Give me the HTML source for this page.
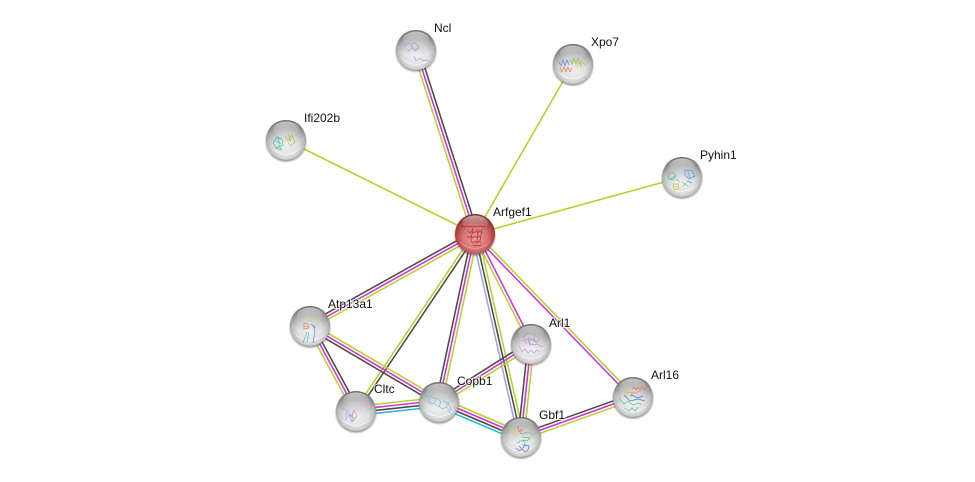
<!DOCTYPE html>
<html><head><meta charset="utf-8"><style>
html,body{margin:0;padding:0;background:#fff}
svg{display:block}
text{font-family:"Liberation Sans",sans-serif;font-size:12px;fill:#111;paint-order:stroke;stroke:#fff;stroke-opacity:.75;stroke-width:2px}
.m{stroke:#d92fd9}.d{stroke:#4a4a4a}.b{stroke:#9aa4ee}.c{stroke:#2cb8d8}.y{stroke:#b5d22a}
line{stroke-width:1.55}
path{fill:none;stroke-width:.7;stroke-linejoin:round;stroke-opacity:.85}
</style></head><body>
<svg width="975" height="482" viewBox="0 0 975 482" xmlns="http://www.w3.org/2000/svg">
<defs>
<radialGradient id="g" cx=".5" cy=".6" r=".58">
<stop offset="0" stop-color="#f2f2f2"/><stop offset=".5" stop-color="#e2e2e2"/><stop offset=".78" stop-color="#bcbcbc"/><stop offset=".95" stop-color="#8c8c8c"/><stop offset="1" stop-color="#767676"/>
</radialGradient>
<radialGradient id="r" cx=".5" cy=".6" r=".58">
<stop offset="0" stop-color="#e6a0a0"/><stop offset=".5" stop-color="#d87878"/><stop offset=".78" stop-color="#bc4444"/><stop offset=".95" stop-color="#962424"/><stop offset="1" stop-color="#7c1818"/>
</radialGradient>
<linearGradient id="k" x1="0" y1="0" x2="0" y2="1">
<stop offset="0" stop-color="#6a6a6a" stop-opacity=".5"/><stop offset="1" stop-color="#8a8a8a" stop-opacity="0"/>
</linearGradient>
<linearGradient id="t" x1="0" y1="0" x2="0" y2="1">
<stop offset="0" stop-color="#fff" stop-opacity=".55"/><stop offset=".5" stop-color="#fff" stop-opacity=".15"/><stop offset="1" stop-color="#fff" stop-opacity="0"/>
</linearGradient>
<radialGradient id="s"><stop offset=".82" stop-color="#444" stop-opacity=".8"/><stop offset="1" stop-color="#555" stop-opacity="0"/></radialGradient>
<g id="shade">
<ellipse cx="0" cy="-7" rx="18" ry="13" fill="url(#k)"/>
<ellipse cx="0" cy="-11" rx="13" ry="7.5" fill="url(#t)"/>
<path d="M-16 6A17 13 0 0 0 16 6A20 20 0 0 1-16 6Z" style="fill:#fff;fill-opacity:.9;stroke:none;stroke-opacity:1"/>
</g>
</defs>

<line class="y" x1="413.1" y1="50.9" x2="472.1" y2="234.9"/><line class="m" x1="416" y1="50" x2="475" y2="234"/><line class="d" x1="418.9" y1="49.1" x2="477.9" y2="233.1"/>
<line class="y" x1="573" y1="64" x2="475" y2="234"/>
<line class="y" x1="286" y1="140" x2="475" y2="234"/>
<line class="y" x1="682" y1="177" x2="475" y2="234"/>
<line class="d" x1="308.5" y1="323.4" x2="473.5" y2="231.4"/><line class="m" x1="310" y1="326" x2="475" y2="234"/><line class="y" x1="311.5" y1="328.6" x2="476.5" y2="236.6"/>
<line class="y" x1="473.75" y1="233.16" x2="354.75" y2="410.16"/><line class="d" x1="476.25" y1="234.84" x2="357.25" y2="411.84"/>
<line class="d" x1="472.07" y1="233.37" x2="436.07" y2="401.37"/><line class="m" x1="475" y1="234" x2="439" y2="402"/><line class="y" x1="477.93" y1="234.63" x2="441.93" y2="402.63"/>
<line class="b" x1="472.07" y1="234.66" x2="518.07" y2="437.66"/><line class="d" x1="475" y1="234" x2="521" y2="437"/><line class="y" x1="477.93" y1="233.34" x2="523.93" y2="436.34"/>
<line class="y" x1="473.66" y1="234.68" x2="529.66" y2="344.68"/><line class="m" x1="476.34" y1="233.32" x2="532.34" y2="343.32"/>
<line class="y" x1="476.08" y1="232.96" x2="634.08" y2="395.96"/><line class="m" x1="473.92" y1="235.04" x2="631.92" y2="398.04"/>
<line class="d" x1="528.02" y1="343.68" x2="518.02" y2="436.68"/><line class="m" x1="531" y1="344" x2="521" y2="437"/><line class="y" x1="533.98" y1="344.32" x2="523.98" y2="437.32"/>
<line class="d" x1="529.4" y1="341.46" x2="437.4" y2="399.46"/><line class="m" x1="531" y1="344" x2="439" y2="402"/><line class="y" x1="532.6" y1="346.54" x2="440.6" y2="404.54"/>
<line class="y" x1="307.36" y1="327.43" x2="353.36" y2="412.43"/><line class="m" x1="310" y1="326" x2="356" y2="411"/><line class="d" x1="312.64" y1="324.57" x2="358.64" y2="409.57"/>
<line class="y" x1="311.52" y1="323.41" x2="440.52" y2="399.41"/><line class="m" x1="310" y1="326" x2="439" y2="402"/><line class="d" x1="308.48" y1="328.59" x2="437.48" y2="404.59"/>
<line class="y" x1="355.51" y1="406.53" x2="438.51" y2="397.53"/><line class="m" x1="355.84" y1="409.51" x2="438.84" y2="400.51"/><line class="d" x1="356.16" y1="412.49" x2="439.16" y2="403.49"/><line class="c" x1="356.49" y1="415.47" x2="439.49" y2="406.47"/>
<line class="y" x1="440.77" y1="397.86" x2="522.77" y2="432.86"/><line class="m" x1="439.59" y1="400.62" x2="521.59" y2="435.62"/><line class="d" x1="438.41" y1="403.38" x2="520.41" y2="438.38"/><line class="c" x1="437.23" y1="406.14" x2="519.23" y2="441.14"/>
<line class="d" x1="519.99" y1="434.17" x2="631.99" y2="394.17"/><line class="m" x1="521" y1="437" x2="633" y2="397"/><line class="y" x1="522.01" y1="439.83" x2="634.01" y2="399.83"/>

<g transform="translate(416,50)"><circle cy="1.5" r="21.5" fill="url(#s)"/><circle r="20" fill="url(#g)"/><use href="#shade"/><path d="M-12-3l5-4 3 2 2-3 3 3 2 2-3 3-4-2-3 3-3-2M-5-5l4 6 4-3M-2 6l2 5 4-3 3 3 4-1 3 2" stroke="#b98ad8"/></g>
<g transform="translate(573,64)"><circle cy="1.5" r="21.5" fill="url(#s)"/><circle r="20" fill="url(#g)"/><use href="#shade"/><path d="M-14-2l2 4 2-6 2 6 2-6 2 5" stroke="#4a7fd8"/><path d="M-13 3l2 5 2-5 2 5 2-5 2 5 2-4" stroke="#e0603a"/><path d="M-3-4l2 4 2-6 2 6 2-6 2 6 2-4" stroke="#7fc040"/><path d="M4 3l2-5 2 4 2-4 2 3" stroke="#e0b030"/></g>
<g transform="translate(286,140)"><circle cy="1.5" r="21.5" fill="url(#s)"/><circle r="20" fill="url(#g)"/><use href="#shade"/><path d="M-13 3l4-6 5 2 1 6-6 3ZM-10 1l5 3M-8-2l2 7" stroke="#2cb0b8"/><path d="M-1-3l3 4 4-6 3 7-4 4-3-3M2-6l3 8" stroke="#c0b030"/><path d="M-11 8l6 2M-8 5l4 5" stroke="#60c060"/></g>
<g transform="translate(682,177)"><circle cy="1.5" r="21.5" fill="url(#s)"/><circle r="20" fill="url(#g)"/><use href="#shade"/><path d="M-14-2l4-3 4 3-3 5-4-1ZM-12 2l6-3M-6 2l4 3" stroke="#30b890"/><path d="M3-7l7 1 3 5-6 3-4-4ZM6-5l2 6M5 4l5 2" stroke="#4a88d8"/><path d="M-9 7l5 0 1 5-5 1ZM-7 9l3 2" stroke="#c0c030"/><path d="M0 5l6 4M1 9l3-3" stroke="#50c060"/></g>
<g transform="translate(310,326)"><circle cy="1.5" r="21.5" fill="url(#s)"/><circle r="20" fill="url(#g)"/><use href="#shade"/><path d="M-2-9l3 4 2-5 3 5 3-3-2 6-4 3" stroke="#b8d870"/><path d="M-6-3l4 1 1 4-5 1ZM-5 0l3 1" stroke="#e07850" stroke-width="1.2"/><path d="M-3 6l-4 11M-1 6l-2 10" stroke="#40b8a0"/><path d="M3 0l2 5-2 12M1-2l5 4" stroke="#5070d0"/></g>
<g transform="translate(356,411)"><circle cy="1.5" r="21.5" fill="url(#s)"/><circle r="20" fill="url(#g)"/><use href="#shade"/><path d="M-13-3l5 3 3 6 3-7 3 6-5 6-3-7-4 5M-9 1l-2 5M-3 1l-1 9M-6 3l5 5" stroke="#b98ad8"/><path d="M3-7l5 2 4-3 2 4-4 2-3-2M3-2l4 3" stroke="#d8c0e4"/></g>
<g transform="translate(439,402)"><circle cy="1.5" r="21.5" fill="url(#s)"/><circle r="20" fill="url(#g)"/><use href="#shade"/><path d="M-13-5l4-2 4 3 4 1 3 3-2 4 3 3 5-2 3 6M-8-6l-3 6 5 2 3-4M-4 2l4 3M4-1l5 2 3 6-2 4M7 4l3-4" stroke="#70bcd4"/></g>
<g transform="translate(531,344)"><circle cy="1.5" r="21.5" fill="url(#s)"/><circle r="20" fill="url(#g)"/><use href="#shade"/><path d="M-9-6l5-5 6 1 7 4-3 4-5-3-4 3 4 3 5-1 6 3M-12 2l3 6 3-3 3 4 3-3 3 3 3-3 3 2M-7-9l2 9M-3-6l2 8M3-8l1 6M-9-3l8-3 7 5" stroke="#b98ad8"/></g>
<g transform="translate(633,397)"><circle cy="1.5" r="21.5" fill="url(#s)"/><circle r="20" fill="url(#g)"/><use href="#shade"/><path d="M-13-8l5 3 5-3M-12-4l6 1" stroke="#e0cc50" stroke-width="1.1"/><path d="M-1-8l2-2 2 3 2-3 2 3 2-3 2 3 2-2" stroke="#e06050" stroke-width="1.1"/><path d="M-9-2l6 6 8-2 7 2M-2-2l7 3 5-2" stroke="#3070c8"/><path d="M-14 1l5 6 4-3 5 4 6-2 3 2M-9 11l5 3 3-3 3 3 3-4" stroke="#30c080" stroke-width="1.1"/><path d="M-7-5l9 1 6-2M-3-1l3-4" stroke="#e0a030"/></g>
<g transform="translate(521,437)"><circle cy="1.5" r="21.5" fill="url(#s)"/><circle r="20" fill="url(#g)"/><use href="#shade"/><path d="M-11-9l4 5 4-3M-8-3l5 2" stroke="#d0d060"/><path d="M-3-11l1 6 3-3-2 5" stroke="#e07040"/><path d="M0-3l7-2 5 3M1 0l8 1-3 3-5-1" stroke="#40c070"/><path d="M-2 4l5 0 1 4-3 0M-4 6l3-1" stroke="#40b8c8"/><path d="M-5 11l3 3 3-2 3 3 3-2 1-4-4-1-2 3M-2 9l3 3" stroke="#4060d0" stroke-width="1.1"/></g>

<g transform="translate(475,234)"><circle cy="1.5" r="21.5" fill="url(#s)"/><circle r="20" fill="url(#r)"/><ellipse cy="-7" rx="18" ry="13" fill="url(#k)" opacity=".6"/><ellipse cy="-11" rx="13" ry="7.5" fill="url(#t)"/><path d="M-16 6A17 13 0 0 0 16 6A20 20 0 0 1-16 6Z" style="fill:#fff;fill-opacity:.4;stroke:none;stroke-opacity:1"/><path d="M-14-8l3 1 3-1 3 1 3-1 3 1 3-1 3 1 3-1M-7-3l2 2 2-2 2 2 2-2 2 2 2-2 2 2M-8 2l2 2 2-2 2 2 2-2 2 2 2-2 2 2M-4 7l2 2 2-2 2 2 2-2 2 2M-2 11l2 1 2-1 2 1 2-1M-2-7l-2 14M3-5l-1 13M7-5l-2 12" stroke="#d01010" stroke-width="1.2"/></g>

<text x="434" y="32">Ncl</text>
<text x="591" y="46">Xpo7</text>
<text x="304" y="122">Ifi202b</text>
<text x="700" y="159">Pyhin1</text>
<text x="493" y="216">Arfgef1</text>
<text x="328" y="308">Atp13a1</text>
<text x="549" y="327">Arl1</text>
<text x="374" y="393">Cltc</text>
<text x="457" y="385">Copb1</text>
<text x="539" y="419">Gbf1</text>
<text x="651" y="379">Arl16</text>
</svg>
</body></html>
